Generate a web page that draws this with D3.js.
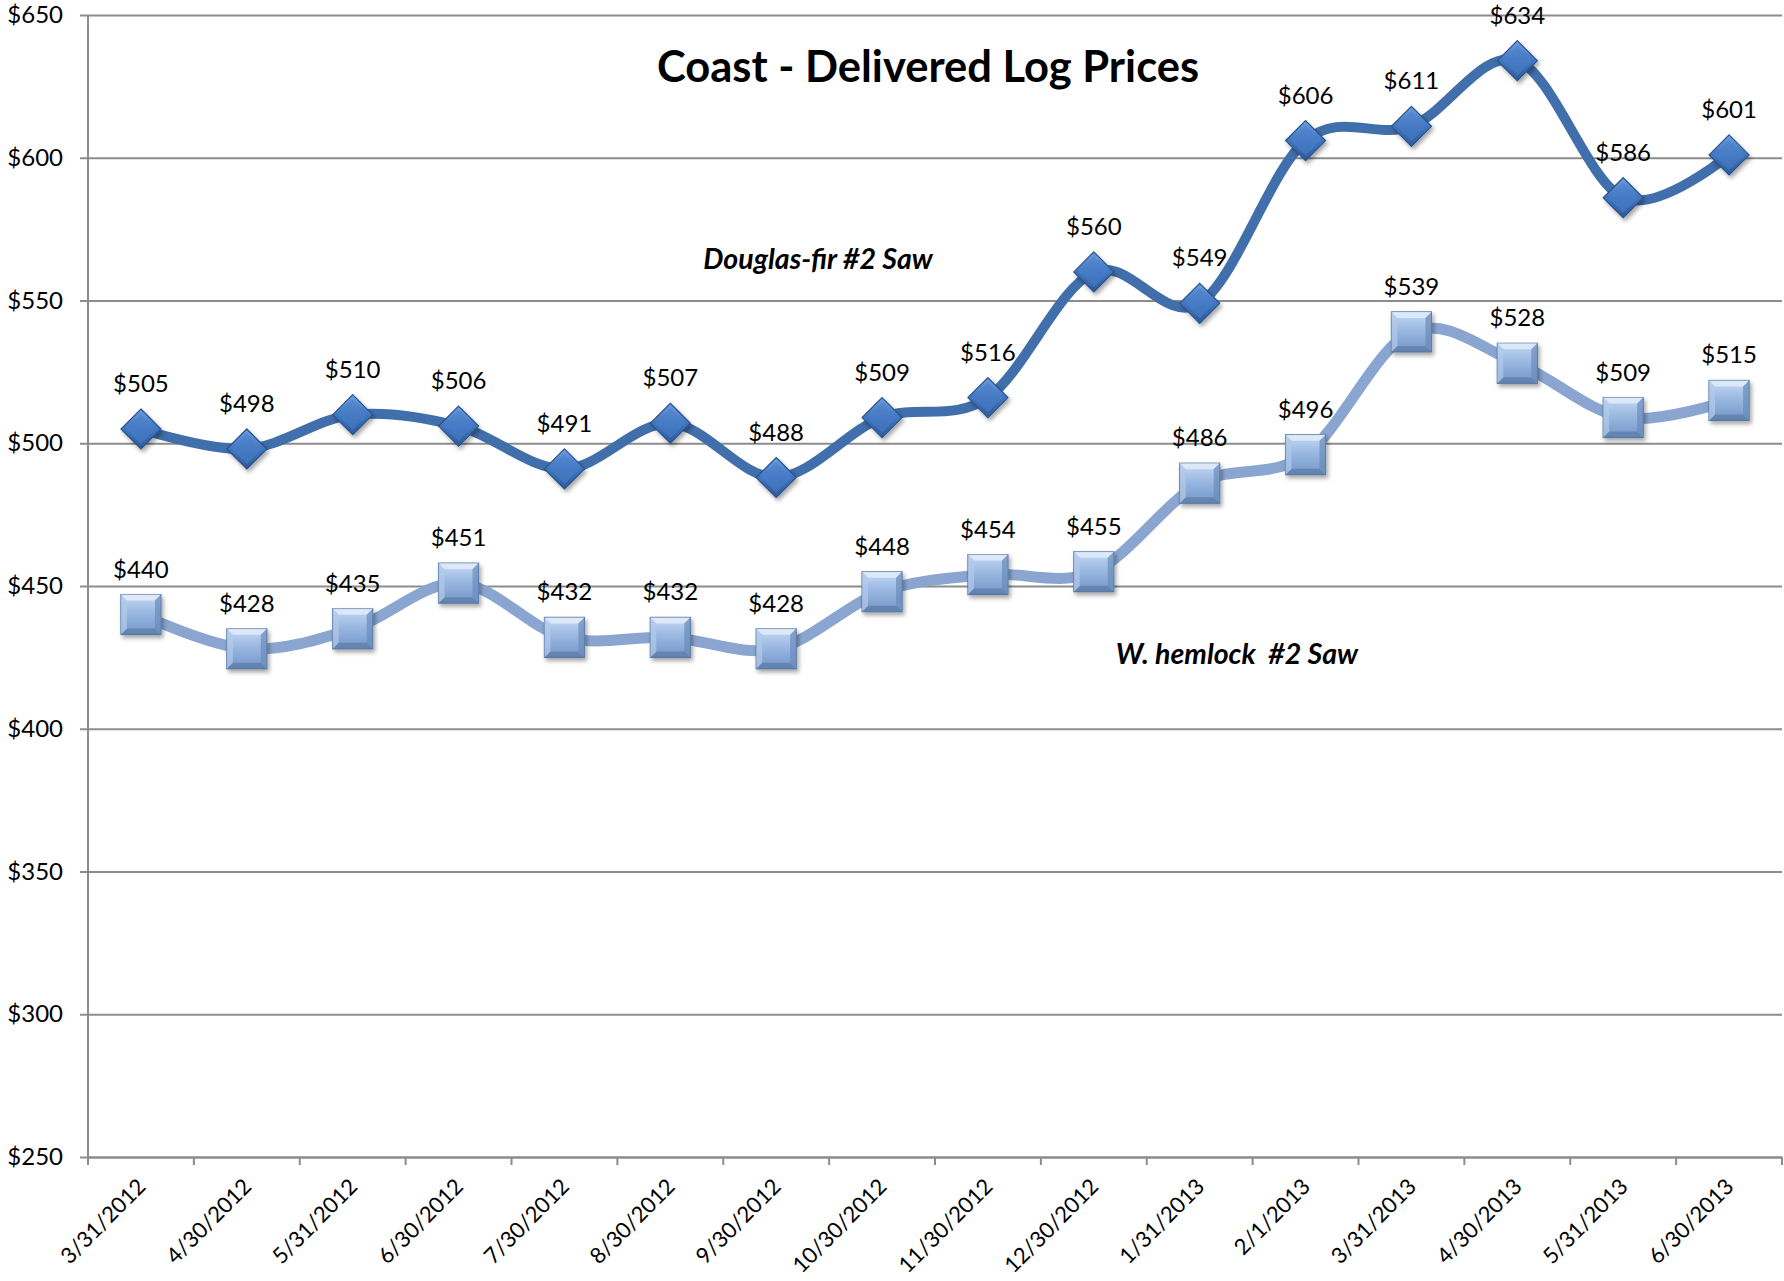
<!DOCTYPE html>
<html>
<head>
<meta charset="utf-8">
<script src="https://cdn.jsdelivr.net/npm/d3@7"></script>
<style>
  body { margin: 0; background: #fff; }
  svg text { font-family: Lato, "Noto Sans", sans-serif; fill: #000; }
</style>
</head>
<body>
<div class="chart"></div>
<script>
var svgWidth = 1784;
var svgHeight = 1281;

var margin = { top: 15, right: 2, bottom: 124, left: 88 };
var width = svgWidth - margin.left - margin.right;
var height = svgHeight - margin.top - margin.bottom;

// chart data
var dates = ["3/31/2012", "4/30/2012", "5/31/2012", "6/30/2012", "7/30/2012", "8/30/2012",
  "9/30/2012", "10/30/2012", "11/30/2012", "12/30/2012", "1/31/2013", "2/1/2013",
  "3/31/2013", "4/30/2013", "5/31/2013", "6/30/2013"];
var douglasFir = [505, 498, 510, 506, 491, 507, 488, 509, 516, 560, 549, 606, 611, 634, 586, 601];
var hemlock = [440, 428, 435, 451, 432, 432, 428, 448, 454, 455, 486, 496, 539, 528, 509, 515];
var yTicks = [250, 300, 350, 400, 450, 500, 550, 600, 650];

var svg = d3.select(".chart")
    .append("svg")
    .attr("width", svgWidth)
    .attr("height", svgHeight);

var defs = svg.append("defs");

var shadow = defs.append("filter").attr("id", "shadow")
    .attr("x", "-30%").attr("y", "-30%").attr("width", "170%").attr("height", "170%");
shadow.append("feDropShadow")
    .attr("dx", 2).attr("dy", 3).attr("stdDeviation", 2)
    .attr("flood-color", "#000").attr("flood-opacity", 0.35);

var gDia = defs.append("linearGradient").attr("id", "gradDia")
    .attr("x1", 0).attr("y1", 0).attr("x2", 0).attr("y2", 1);
gDia.append("stop").attr("offset", "0%").attr("stop-color", "#6d9de0");
gDia.append("stop").attr("offset", "50%").attr("stop-color", "#3f76c0");
gDia.append("stop").attr("offset", "100%").attr("stop-color", "#2c5a9a");

var gSq = defs.append("linearGradient").attr("id", "gradSq")
    .attr("x1", 0).attr("y1", 0).attr("x2", 0).attr("y2", 1);
gSq.append("stop").attr("offset", "0%").attr("stop-color", "#c6daf3");
gSq.append("stop").attr("offset", "45%").attr("stop-color", "#9ab8e2");
gSq.append("stop").attr("offset", "100%").attr("stop-color", "#7396c8");

var chart = svg.append("g")
    .attr("transform", "translate(" + margin.left + "," + margin.top + ")");

var xScale = d3.scaleBand().domain(dates).range([0, width]).padding(0);
var yScale = d3.scaleLinear().domain([250, 650]).range([height, 0]);

function cx(d, i) { return xScale(dates[i]) + xScale.bandwidth() / 2; }

// gridlines
chart.append("g")
    .attr("class", "grid")
    .call(d3.axisLeft(yScale).tickValues(yTicks).tickSize(-width).tickFormat(""))
    .call(function(g) {
        g.select(".domain").remove();
        g.selectAll("line").attr("stroke", "#8c8c8c").attr("stroke-width", 2);
    });

// y axis
chart.append("g")
    .call(d3.axisLeft(yScale).tickValues(yTicks).tickSize(8).tickPadding(17)
        .tickFormat(function(d) { return "$" + d; }))
    .call(function(g) {
        g.select(".domain").attr("stroke", "#8c8c8c").attr("stroke-width", 2)
            .attr("d", "M0," + height + "V0");
        g.selectAll("line").attr("stroke", "#8c8c8c").attr("stroke-width", 2);
        g.selectAll("text").style("font-size", "24px").attr("fill", "#000");
    });

// x axis: labels at category centres, tick marks between categories
var xAxis = chart.append("g")
    .attr("transform", "translate(0," + height + ")")
    .call(d3.axisBottom(xScale).tickSize(0).tickPadding(0))
    .call(function(g) {
        g.select(".domain").attr("stroke", "#8c8c8c").attr("stroke-width", 2);
        g.selectAll("text")
            .style("font-size", "22px")
            .attr("fill", "#000")
            .attr("text-anchor", "end")
            .attr("y", 0).attr("dy", 0)
            .attr("transform", "translate(6,31) rotate(-45)");
    });

xAxis.selectAll(".sep")
    .data(dates.concat(["end"]))
    .enter()
    .append("line")
    .attr("class", "sep")
    .attr("x1", function(d, i) { return i < dates.length ? xScale(d) : width; })
    .attr("x2", function(d, i) { return i < dates.length ? xScale(d) : width; })
    .attr("y1", 0).attr("y2", 8)
    .attr("stroke", "#8c8c8c").attr("stroke-width", 2);

var line = d3.line()
    .x(cx)
    .y(function(d) { return yScale(d); })
    .curve(d3.curveCardinal.tension(0));

chart.append("path")
    .datum(hemlock)
    .attr("fill", "none")
    .attr("stroke", "#8aa6d0")
    .attr("stroke-width", 11)
    .attr("d", line);

chart.append("path")
    .datum(douglasFir)
    .attr("fill", "none")
    .attr("stroke", "#416fab")
    .attr("stroke-width", 10)
    .attr("d", line);

// diamond markers
var dia = chart.selectAll(".dia")
    .data(douglasFir)
    .enter()
    .append("g")
    .attr("class", "dia")
    .attr("transform", function(d, i) { return "translate(" + cx(d, i) + "," + yScale(d) + ")"; })
    .attr("filter", "url(#shadow)");
dia.append("path")
    .attr("d", "M0,-20L20,0L0,20L-20,0Z")
    .attr("fill", "url(#gradDia)")
    .attr("stroke", "#2b5288").attr("stroke-width", 1.2);
dia.append("path")
    .attr("d", "M0,-15L15,0L0,15L-15,0Z")
    .attr("fill", "#4a80c8").attr("opacity", 0.55);

// square markers
var sq = chart.selectAll(".sq")
    .data(hemlock)
    .enter()
    .append("g")
    .attr("class", "sq")
    .attr("transform", function(d, i) { return "translate(" + cx(d, i) + "," + yScale(d) + ")"; })
    .attr("filter", "url(#shadow)");
sq.append("rect")
    .attr("x", -20).attr("y", -20).attr("width", 40).attr("height", 40)
    .attr("fill", "url(#gradSq)")
    .attr("stroke", "#5a79a6").attr("stroke-width", 1.2);
sq.append("path")
    .attr("d", "M-20,-20L20,-20L14,-14L-14,-14Z")
    .attr("fill", "#e3eefb").attr("opacity", 0.8);
sq.append("path")
    .attr("d", "M-20,20L20,20L14,14L-14,14Z")
    .attr("fill", "#56779f").attr("opacity", 0.6);
sq.append("path")
    .attr("d", "M-20,-20L-14,-14L-14,14L-20,20Z")
    .attr("fill", "#b3cbea").attr("opacity", 0.7);
sq.append("path")
    .attr("d", "M20,-20L14,-14L14,14L20,20Z")
    .attr("fill", "#6a8cbb").attr("opacity", 0.7);

// data labels
chart.selectAll(".lblDF")
    .data(douglasFir)
    .enter()
    .append("text")
    .attr("class", "lblDF")
    .attr("x", cx)
    .attr("y", function(d) { return yScale(d) - 37; })
    .attr("text-anchor", "middle")
    .style("font-size", "24px")
    .text(function(d) { return "$" + d; });

chart.selectAll(".lblWH")
    .data(hemlock)
    .enter()
    .append("text")
    .attr("class", "lblWH")
    .attr("x", cx)
    .attr("y", function(d) { return yScale(d) - 37; })
    .attr("text-anchor", "middle")
    .style("font-size", "24px")
    .text(function(d) { return "$" + d; });

// title and series names
svg.append("text")
    .attr("x", 928).attr("y", 82)
    .attr("text-anchor", "middle")
    .style("font-size", "43.5px").style("font-weight", "bold")
    .text("Coast - Delivered Log Prices");

svg.append("text")
    .attr("x", 818).attr("y", 269)
    .attr("text-anchor", "middle")
    .style("font-size", "28.5px").style("font-weight", "bold").style("font-style", "italic")
    .text("Douglas-fir #2 Saw");

svg.append("text")
    .attr("x", 1237).attr("y", 664)
    .attr("text-anchor", "middle")
    .attr("xml:space", "preserve")
    .style("white-space", "pre")
    .style("font-size", "28.5px").style("font-weight", "bold").style("font-style", "italic")
    .text("W. hemlock  #2 Saw");
</script>
</body>
</html>
